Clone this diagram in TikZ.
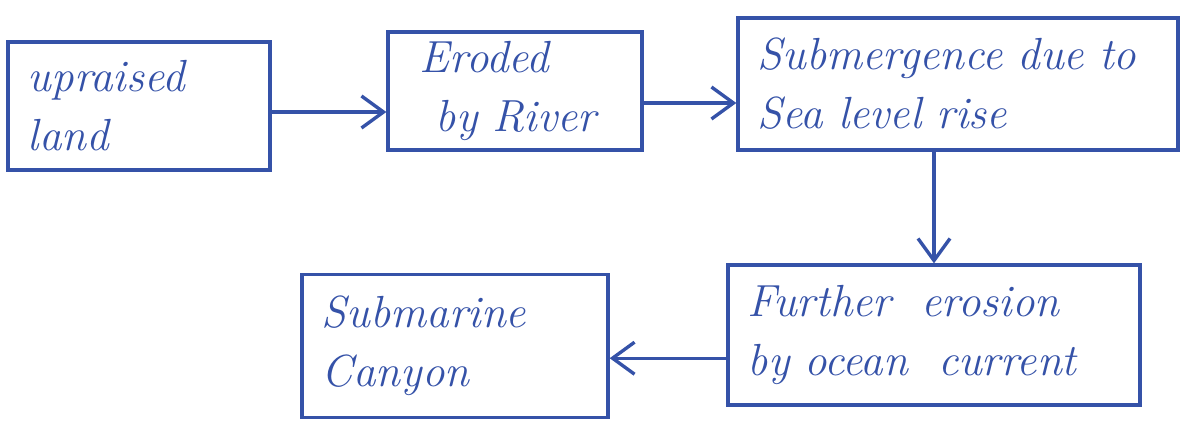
\documentclass[tikz,border=0pt]{standalone}
\usetikzlibrary{arrows.meta,calc}
\definecolor{ink}{HTML}{3552A8}
\begin{document}
\begin{tikzpicture}[x=0.025cm,y=-0.025cm,
  box/.style={draw=ink, line width=2.3pt, rectangle, align=left, text=ink,
    font=\fontsize{32}{42}\selectfont\itshape, inner xsep=0.5cm, inner ysep=0pt},
  arr/.style={draw=ink, line width=2.4pt, -{Straight Barb[length=0.55cm,width=0.8cm,line width=2.4pt]}}]
\useasboundingbox (0,0) rectangle (1190,432);
\node[box, minimum width=6.55cm, minimum height=3.2cm, text width=5.55cm] (b1) at (139,106) {upraised\\land};
\node[box, minimum width=6.35cm, minimum height=2.95cm, text width=5.35cm] (b2) at (515,91) {\hspace*{0.3cm}Eroded\\\hspace*{0.7cm}by River};
\node[box, minimum width=11cm, minimum height=3.3cm, text width=10cm] (b3) at (958,84) {Submergence due to\\Sea level rise};
\node[box, minimum width=10.3cm, minimum height=3.5cm, text width=9.3cm] (b4) at (934,335) {Further \ erosion\\by ocean \ current};
\node[box, minimum width=7.65cm, minimum height=3.575cm, text width=6.65cm] (b5) at (455,346) {Submarine\\Canyon};
\coordinate (s1) at ([yshift=-0.15cm]b1.east);
\coordinate (s2) at ([yshift=-0.3cm]b2.east);
\coordinate (s4) at ([yshift=-0.58cm]b4.west);
\draw[arr] (s1) -- (b2.west |- s1);
\draw[arr] (s2) -- (b3.west |- s2);
\draw[arr] (b4.north |- b3.south) -- (b4.north);
\draw[arr] (s4) -- (b5.east |- s4);
\end{tikzpicture}
\end{document}
